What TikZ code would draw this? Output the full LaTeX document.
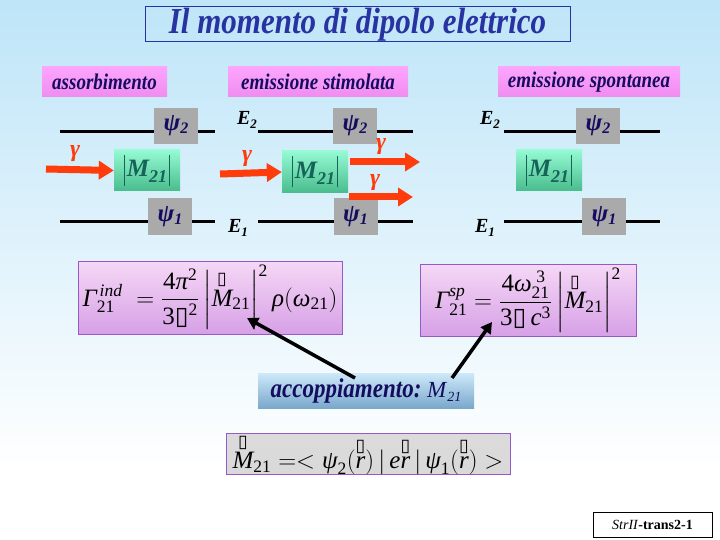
\documentclass[tikz,border=0pt]{standalone}
\usepackage{fontspec}
\usepackage{amsmath}
\setmainfont{Liberation Serif}
\newfontfamily\dejavu{DejaVu Sans}
\usetikzlibrary{arrows.meta}
\definecolor{bgtop}{RGB}{190,229,248}
\definecolor{titleblue}{RGB}{40,50,160}
\definecolor{pinkT}{RGB}{252,165,252}
\definecolor{pinkB}{RGB}{240,140,240}
\definecolor{navy}{RGB}{20,12,95}
\definecolor{grayb}{RGB}{170,170,170}
\definecolor{greenT}{RGB}{150,250,212}
\definecolor{greenB}{RGB}{72,188,140}
\definecolor{tealtxt}{RGB}{22,100,88}
\definecolor{arrred}{RGB}{255,60,12}
\definecolor{fT}{RGB}{246,216,246}
\definecolor{fB}{RGB}{214,160,230}
\definecolor{fBorder}{RGB}{150,90,200}
\definecolor{accT}{RGB}{205,233,249}
\definecolor{accB}{RGB}{122,168,204}
\newcommand{\phb}{\textnormal{\dejavu\char"25AF}}
\newcommand{\nn}[1]{\textnormal{#1}}
\newcommand{\ii}[1]{\textit{#1}}
\newcommand{\tall}[1]{\scalebox{1}[1.18]{#1}}
\newcommand{\psisub}[1]{ψ\raisebox{-3pt}{\fontsize{16}{16}\selectfont #1}}
\newcommand{\esub}[1]{E\raisebox{-4pt}{\fontsize{13}{13}\selectfont #1}}
\newcommand{\mabs}{\rule[-9pt]{1.3pt}{31pt}\kern2pt M\raisebox{-6pt}{\fontsize{18}{18}\selectfont 21}\kern2pt\rule[-9pt]{1.3pt}{31pt}}
\begin{document}
\begin{tikzpicture}[x=1pt,y=-1pt,
  plabel/.style={top color=pinkT,bottom color=pinkB,minimum height=30,inner sep=0,
    text=navy,font=\fontsize{19}{20}\selectfont\bfseries\itshape},
  psibox/.style={fill=grayb,minimum width=44,minimum height=36,inner sep=0,
    text=navy,font=\fontsize{25}{25}\selectfont\bfseries\itshape},
  mbox/.style={top color=greenT,bottom color=greenB,minimum width=66,minimum height=41,inner sep=0,
    text=tealtxt,font=\fontsize{25}{25}\selectfont\bfseries\itshape},
  elabel/.style={inner sep=0,text=black,font=\fontsize{20}{20}\selectfont\bfseries\itshape},
  glabel/.style={inner sep=0,text=arrred,font=\fontsize{24}{24}\selectfont\bfseries\itshape},
  level/.style={line width=3pt,black},
  redarrow/.style={draw=arrred,line width=7pt,-{Triangle[length=15pt,width=18pt]}},
  fbox/.style={top color=fT,bottom color=fB,draw=fBorder,line width=1pt,inner sep=0,
    font=\fontsize{25}{25}\selectfont},
  blackarrow/.style={line width=3.5pt,-{Triangle[length=11pt,width=12pt]}}]
\useasboundingbox (0,0) rectangle (720,540);
\shade[top color=bgtop,bottom color=white] (0,0) rectangle (720,470);
\fill[white] (0,470) rectangle (720,540);

% title
\node[draw=titleblue,line width=1pt,minimum width=425,minimum height=35,inner sep=0,
  text=titleblue,font=\fontsize{31}{32}\selectfont\bfseries\itshape] (title) at (357.5,24.5)
  {\tall{Il momento di dipolo elettrico}};

% headings
\node[plabel,minimum width=125] (h1) at (104.5,82) {\tall{assorbimento}};
\node[plabel,minimum width=180] (h2) at (318,82) {\tall{emissione stimolata}};
\node[plabel,minimum width=182] (h3) at (589,82) {\tall{emissione spontanea}};

% ---- left: absorption
\coordinate (L1a) at (60,132); \coordinate (L1b) at (215,132);
\coordinate (L2a) at (60,222); \coordinate (L2b) at (215,222);
\draw[level] (L1a) -- (L1b);
\draw[level] (L2a) -- (L2b);
\node[psibox] (p2a) at (176,126) {\psisub{2}};
\node[psibox,minimum height=37] (p1a) at (170,216.5) {\psisub{1}};
\node[mbox] (ma) at (147,170.5) {\mabs};
\coordinate (ga) at (46,169);
\draw[redarrow] (ga) -- (ma.west);
\node[glabel] (gla) at (75,154) {γ};

% ---- middle: stimulated emission
\coordinate (M1a) at (258,132); \coordinate (M1b) at (413,132);
\coordinate (M2a) at (258,222); \coordinate (M2b) at (413,222);
\draw[level] (M1a) -- (M1b);
\draw[level] (M2a) -- (M2b);
\node[elabel] (e2b) at (247,120) {\esub{2}};
\node[elabel] (e1b) at (238,228) {\esub{1}};
\node[psibox] (p2b) at (355,126) {\psisub{2}};
\node[psibox,minimum height=37] (p1b) at (355.5,216.5) {\psisub{1}};
\node[mbox,minimum height=42] (mb) at (315,172) {\mabs};
\coordinate (gb) at (220,174);
\draw[redarrow] (gb) -- (mb.west);
\node[glabel] (glb) at (247,159) {γ};
\coordinate (o1s) at (350,162); \coordinate (o1e) at (420,162);
\coordinate (o2s) at (349,197); \coordinate (o2e) at (413,197);
\draw[redarrow] (o1s) -- (o1e);
\draw[redarrow] (o2s) -- (o2e);
\node[glabel] (glc) at (381,147) {γ};
\node[glabel] (gld) at (375,183) {γ};

% ---- right: spontaneous emission
\coordinate (R1a) at (504,132); \coordinate (R1b) at (660,132);
\coordinate (R2a) at (504,222); \coordinate (R2b) at (660,222);
\draw[level] (R1a) -- (R1b);
\draw[level] (R2a) -- (R2b);
\node[elabel] (e2c) at (490,120) {\esub{2}};
\node[elabel] (e1c) at (485,228) {\esub{1}};
\node[psibox] (p2c) at (598,126) {\psisub{2}};
\node[psibox,minimum height=37] (p1c) at (604,216.5) {\psisub{1}};
\node[mbox] (mc) at (549,170.5) {\mabs};

% ---- formulas
\node[fbox,minimum width=264,minimum height=73] (f1) at (210,297.5)
 {$\ii{Γ}^{\,\ii{ind}}_{\nn{21}}\;=\dfrac{\nn{4}\ii{π}^{\nn{2}}}{\nn{3}\phb^{\nn{2}}}\left|\overset{\phb}{\ii{M}}_{\nn{21}}\right|^{\nn{2}}\ii{ρ}(\ii{ω}_{\nn{21}})$};
\node[fbox,minimum width=216,minimum height=72] (f2) at (528,300)
 {$\ii{Γ}^{\ii{sp}}_{\nn{21}}=\dfrac{\nn{4}\ii{ω}_{\nn{21}}^{\;\nn{3}}}{\nn{3}\phb\,\ii{c}^{\nn{3}}}\left|\overset{\phb}{\ii{M}}_{\nn{21}}\right|^{\nn{2}}$};

\node[top color=accT,bottom color=accB,minimum width=216,minimum height=35,inner sep=0,
  text=navy,font=\fontsize{23}{23}\selectfont] (acc) at (366,390.5)
 {\tall{\textbf{\textit{accoppiamento:}}} \textit{M}\raisebox{-4pt}{\fontsize{14}{14}\selectfont\textit{21}}};

\node[top color=gray!28,middle color=white,bottom color=gray!30,draw=fBorder,line width=1pt,
  minimum width=284,minimum height=40,inner sep=0,font=\fontsize{25}{25}\selectfont] (f3) at (368,454)
 {$\overset{\phb}{\ii{M}}_{\nn{21}}=<\ii{ψ}_{\nn{2}}(\overset{\phb}{\ii{r}})\,|\,\ii{e}\overset{\phb}{\ii{r}}\,|\,\ii{ψ}_{\nn{1}}(\overset{\phb}{\ii{r}})>$};

% connectors
\coordinate (t1) at (355,378); \coordinate (h1p) at (247,318);
\coordinate (t2) at (452,378); \coordinate (h2p) at (492,322);
\draw[blackarrow] (t1) -- (h1p);
\draw[blackarrow] (t2) -- (h2p);

% footer
\node[draw=black,fill=white,line width=0.8pt,minimum width=119,minimum height=25,inner sep=0,
  font=\fontsize{14}{14}\selectfont] (foot) at (652.5,524.5) {\textit{StrII}\textbf{-trans2-1}};
\end{tikzpicture}
\end{document}
